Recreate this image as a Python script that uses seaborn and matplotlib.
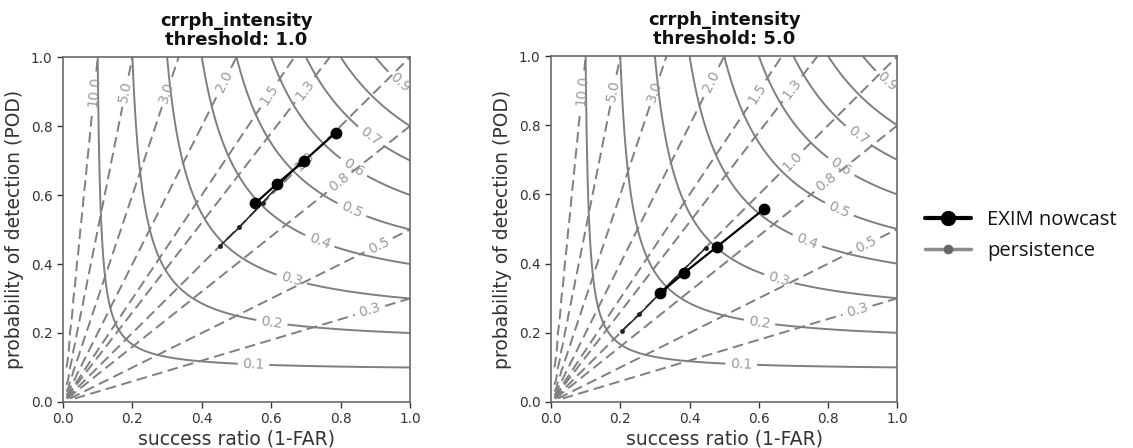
import numpy as np
import pandas as pd
import matplotlib
matplotlib.use("Agg")
import matplotlib.pyplot as plt
from matplotlib.lines import Line2D
import seaborn as sns

# Verification scores per lead time (success ratio, probability of detection)
thresholds = ["1.0", "5.0"]
exim_sr_t1 = [0.786, 0.695, 0.616, 0.554]
exim_pod_t1 = [0.781, 0.699, 0.632, 0.576]
pers_sr_t1 = [0.680, 0.575, 0.508, 0.452]
pers_pod_t1 = [0.690, 0.578, 0.506, 0.452]

exim_sr_t5 = [0.616, 0.478, 0.384, 0.315]
exim_pod_t5 = [0.559, 0.448, 0.373, 0.315]
pers_sr_t5 = [0.447, 0.325, 0.255, 0.204]
pers_pod_t5 = [0.446, 0.325, 0.253, 0.205]

variable = "crrph_intensity"
csi_levels = [0.1, 0.2, 0.3, 0.4, 0.5, 0.6, 0.7, 0.8, 0.9]
bias_levels = [0.3, 0.5, 0.8, 1.0, 1.3, 1.5, 2.0, 3.0, 5.0, 10.0]

sns.set_theme(style="ticks")
plt.rcParams["font.family"] = ["DejaVu Sans"]

LINE_GREY = "#7f7f7f"
LABEL_GREY = "#9a9a9a"

# label anchor points along the score isolines
csi_label_pos = [(0.549, 0.111), (0.602, 0.231), (0.659, 0.356), (0.74, 0.467),
                 (0.831, 0.554), (0.84, 0.684), (0.883, 0.766), (0.974, 0.93)]
bias_label_pos = [(0.883, 0.27), (0.907, 0.46), (0.793, 0.64), (0.695, 0.698),
                  (0.697, 0.905), (0.597, 0.89), (0.46, 0.93), (0.296, 0.90),
                  (0.184, 0.90), (0.091, 0.90)]

grid = np.arange(0.01, 1.01, 0.01)
sr_g, pod_g = np.meshgrid(grid, grid)
bias_g = pod_g / sr_g
csi_g = 1.0 / (1.0 / sr_g + 1.0 / pod_g - 1.0)


def performance_diagram(ax, exim_sr, exim_pod, pers_sr, pers_pod, thr):
    cs = ax.contour(sr_g, pod_g, csi_g, levels=csi_levels, colors=LINE_GREY,
                    linewidths=1.4, linestyles="solid")
    bs = ax.contour(sr_g, pod_g, bias_g, levels=bias_levels, colors=LINE_GREY,
                    linewidths=1.4, linestyles=[(0, (5.5, 2.8))])
    ax.clabel(cs, fmt="%1.1f", fontsize=10, colors=LABEL_GREY, inline=True,
              manual=csi_label_pos)
    ax.clabel(bs, fmt="%1.1f", fontsize=10, colors=LABEL_GREY, inline=True,
              manual=bias_label_pos)

    df_pers = pd.DataFrame({"sr": pers_sr, "pod": pers_pod})
    df_exim = pd.DataFrame({"sr": exim_sr, "pod": exim_pod})
    sns.lineplot(data=df_pers, x="sr", y="pod", ax=ax, sort=False, color="#222222",
                 linewidth=1.1, marker="o", markersize=3.5, markeredgewidth=0,
                 legend=False, zorder=5)
    sns.lineplot(data=df_exim, x="sr", y="pod", ax=ax, sort=False, color="black",
                 linewidth=1.6, marker="o", markersize=8.5, markeredgewidth=0,
                 legend=False, zorder=6)

    ax.set_xlim(0, 1)
    ax.set_ylim(0, 1)
    ax.set_xticks(np.arange(0, 1.01, 0.2))
    ax.set_yticks(np.arange(0, 1.01, 0.2))
    ax.set_xlabel("success ratio (1-FAR)", fontsize=13.5, color="#333333", labelpad=2)
    ax.set_ylabel("probability of detection (POD)", fontsize=13.5, color="#333333",
                  labelpad=5)
    ax.set_title(f"{variable}\nthreshold: {thr}", fontsize=13, fontweight="bold",
                 color="#111111", linespacing=1.05, pad=9)
    ax.tick_params(labelsize=9.8, colors="#333333", length=4, width=1.0)
    for sp in ax.spines.values():
        sp.set_color("#6a6a6a")
        sp.set_linewidth(1.2)
        sp.set_visible(True)


fig = plt.figure(figsize=(11.33, 4.48), dpi=100)
ax1 = fig.add_axes([0.0556, 0.1027, 0.3063, 0.770])
ax2 = fig.add_axes([0.4863, 0.1027, 0.3058, 0.772])

performance_diagram(ax1, exim_sr_t1, exim_pod_t1, pers_sr_t1, pers_pod_t1, thresholds[0])
performance_diagram(ax2, exim_sr_t5, exim_pod_t5, pers_sr_t5, pers_pod_t5, thresholds[1])

handles = [
    Line2D([], [], color="black", linewidth=3, marker="o", markersize=10),
    Line2D([], [], color="#8c8c8c", linewidth=2.5, marker="o", markersize=6,
           markerfacecolor="#666666", markeredgecolor="#666666"),
]
fig.legend(handles, ["EXIM nowcast", "persistence"], loc="center left",
           bbox_to_anchor=(0.8, 0.475), frameon=False, labelcolor="#111111",
           prop={"family": "Open Sans", "size": 14.5}, handlelength=2.3,
           handletextpad=0.8, labelspacing=0.55)

fig.savefig("out.png", dpi=100)
